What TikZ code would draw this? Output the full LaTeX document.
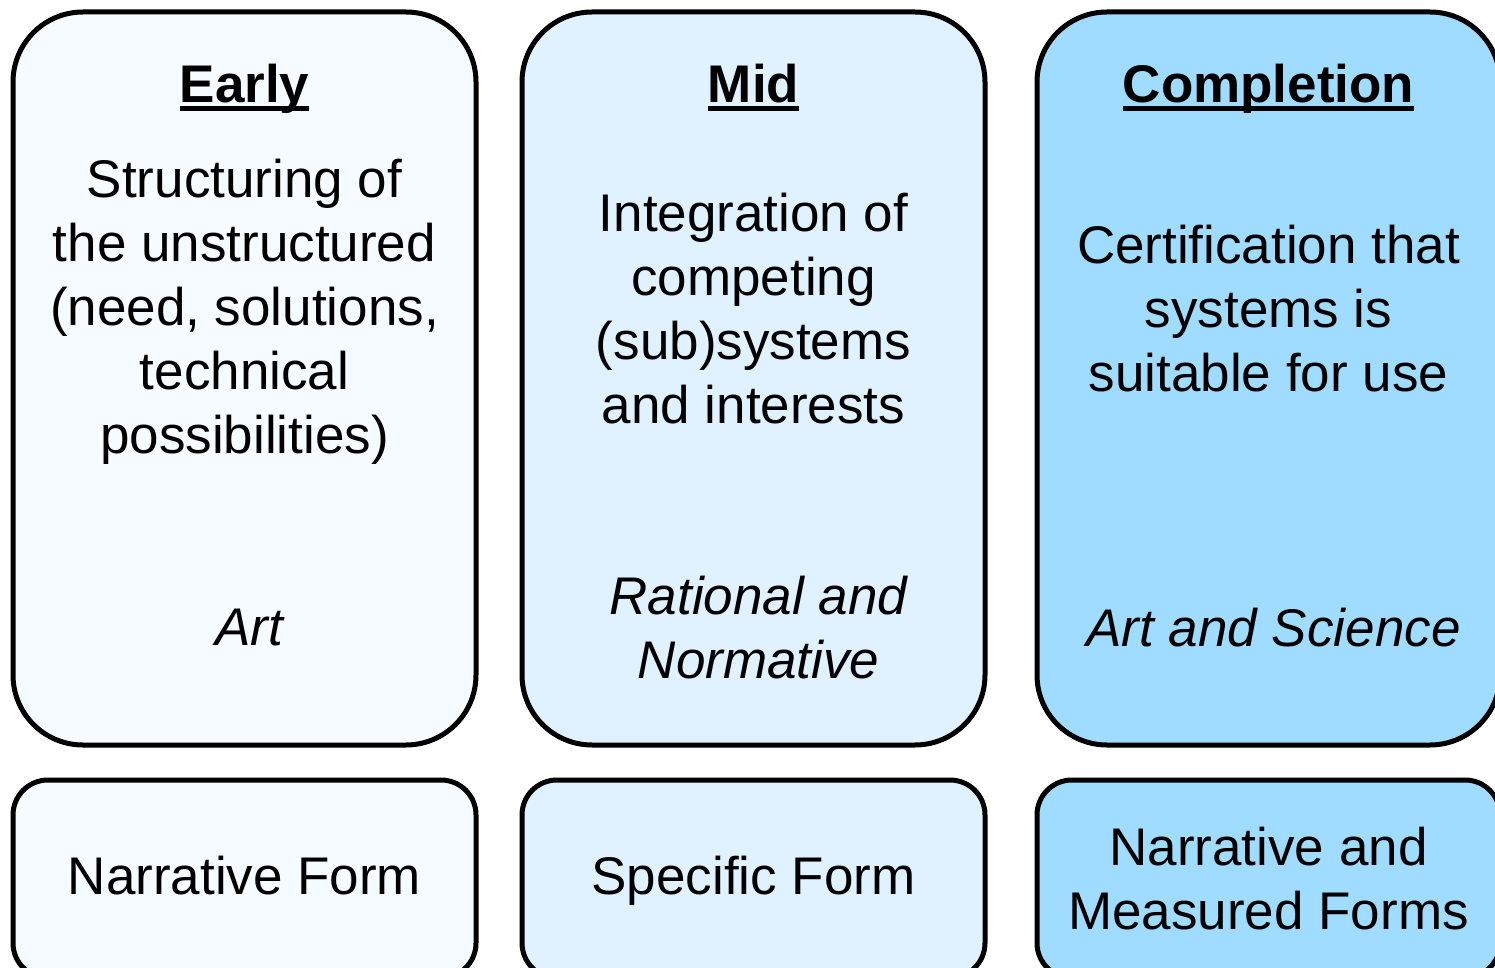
\documentclass[tikz,border=0pt]{standalone}
\usepackage{fontspec}
\setmainfont{Liberation Sans}
\usetikzlibrary{positioning}
\definecolor{earlyfill}{HTML}{F5FBFF}
\definecolor{midfill}{HTML}{E0F2FF}
\definecolor{donefill}{HTML}{A0DCFF}
\newcommand{\headul}[1]{\setbox0\hbox{#1}\rlap{\rule[-4.25pt]{\wd0}{2.5pt}}\box0}

\begin{document}
\begin{tikzpicture}[
        x=0.5pt, y=-0.5pt,
        font=\fontsize{26.5}{32}\selectfont,
        phase/.style={draw, line width=2.5pt, rounded corners=35pt, minimum width=231.5pt, minimum height=366.5pt, inner sep=0pt},
        form/.style={draw, line width=2.5pt, rounded corners=17.5pt, minimum width=231.5pt, minimum height=99pt, inner sep=0pt, align=center},
        heading/.style={anchor=base, font=\fontsize{26.5}{32}\selectfont\bfseries},
        body/.style={align=center},
        mode/.style={align=center, xshift=2.5pt, font=\fontsize{26.5}{32}\selectfont\itshape}
    ]
        \useasboundingbox (0,0) rectangle (1495,968);

        % Phase boxes
        \node[phase, fill=earlyfill] (early) at (244.5,378.5) {};
        \node[phase, fill=midfill] (mid) at (753.5,378.5) {};
        \node[phase, fill=donefill] (done) at (1268.5,378.5) {};

        % Headings
        \node[heading] (earlyhead) at (244.5,103) {\headul{Early}};
        \node[heading] (midhead) at (753.5,103) {\headul{Mid}};
        \node[heading] (donehead) at (1268.5,103) {\headul{Completion}};

        % Descriptions
        \node[body] (earlytext) at (244.5,312) {Structuring of\\the unstructured\\(need, solutions,\\technical\\possibilities)};
        \node[body] (midtext) at (753.5,309) {Integration of\\competing\\(sub)systems\\and interests};
        \node[body] (donetext) at (1268.5,309) {Certification that\\systems is\\suitable for use};

        % Modes
        \node[mode] (earlymode) at (244.5,628) {Art};
        \node[mode] (midmode) at (753.5,628) {Rational and\\Normative};
        \node[mode] (donemode) at (1268.5,628) {Art and Science};

        % Form boxes
        \node[form, fill=earlyfill] (earlyform) at (244.5,879) {};
        \node[form, fill=midfill] (midform) at (753.5,879) {};
        \node[form, fill=donefill] (doneform) at (1268.5,879) {Narrative and\\Measured Forms};
        \node (earlyformtext) at (244.5,882) {\strut Narrative Form};
        \node (midformtext) at (753.5,882) {\strut Specific Form};
    \end{tikzpicture}
\end{document}
